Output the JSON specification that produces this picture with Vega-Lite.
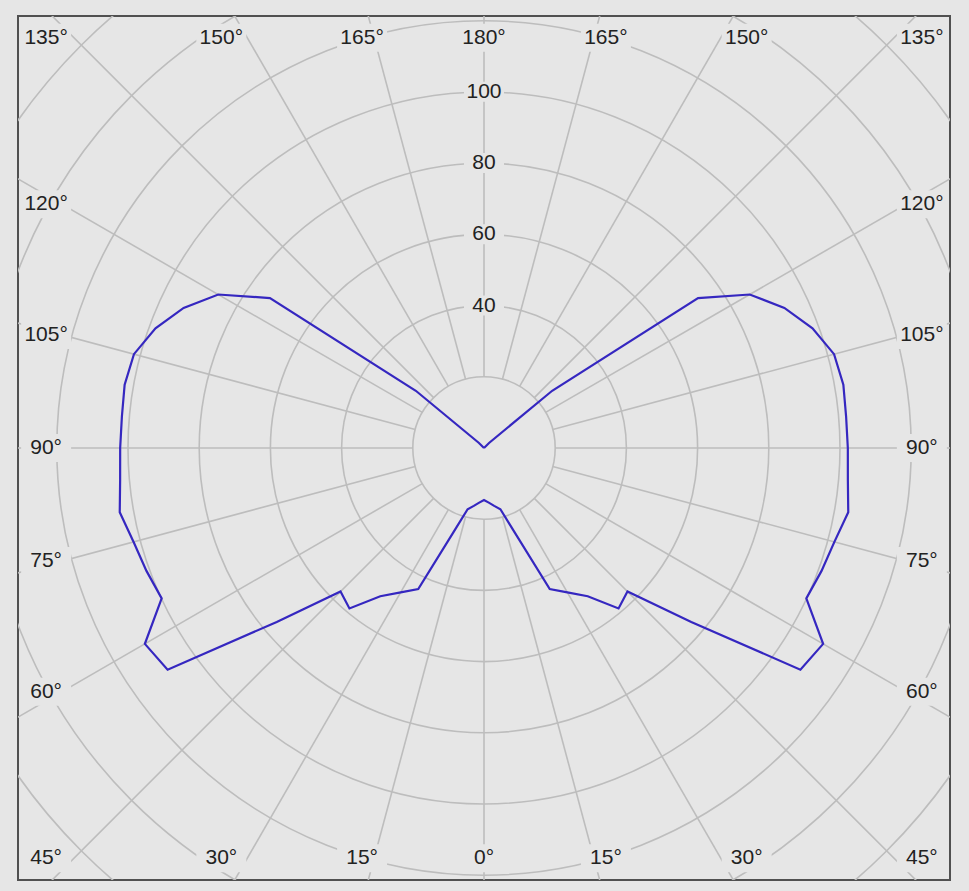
{
  "$schema": "https://vega.github.io/schema/vega-lite/v6.json",
  "width": 932,
  "height": 864,
  "autosize": {"type": "none"},
  "padding": {"left": 18, "top": 16, "right": 19, "bottom": 11},
  "background": "#e6e6e6",
  "config": {
    "view": {"stroke": "#505050", "strokeWidth": 2, "fill": "#e6e6e6"}
  },
  "datasets": {
    "rings": [{"ring": 20}, {"ring": 40}, {"ring": 60}, {"ring": 80}, {"ring": 100}, {"ring": 120}, {"ring": 140}, {"ring": 160}, {"ring": 180}],
    "rays": [{"deg": 0}, {"deg": 15}, {"deg": 30}, {"deg": 45}, {"deg": 60}, {"deg": 75}, {"deg": 90}, {"deg": 105}, {"deg": 120}, {"deg": 135}, {"deg": 150}, {"deg": 165}, {"deg": 180}, {"deg": 195}, {"deg": 210}, {"deg": 225}, {"deg": 240}, {"deg": 255}, {"deg": 270}, {"deg": 285}, {"deg": 300}, {"deg": 315}, {"deg": 330}, {"deg": 345}],
    "ticks": [{"v": 40}, {"v": 60}, {"v": 80}, {"v": 100}],
    "intensity": [
      {"plane": "left", "gamma": 0, "cd": 14.6}, {"plane": "left", "gamma": 5, "cd": 15.4}, {"plane": "left", "gamma": 10, "cd": 16.5}, {"plane": "left", "gamma": 15, "cd": 17.8}, {"plane": "left", "gamma": 20, "cd": 25.3}, {"plane": "left", "gamma": 25, "cd": 43.7}, {"plane": "left", "gamma": 30, "cd": 46.8}, {"plane": "left", "gamma": 35, "cd": 50.8}, {"plane": "left", "gamma": 40, "cd": 58.8}, {"plane": "left", "gamma": 45, "cd": 57.0}, {"plane": "left", "gamma": 50, "cd": 76.0}, {"plane": "left", "gamma": 55, "cd": 108.5}, {"plane": "left", "gamma": 60, "cd": 110.0}, {"plane": "left", "gamma": 65, "cd": 99.9}, {"plane": "left", "gamma": 70, "cd": 100.9}, {"plane": "left", "gamma": 75, "cd": 101.9}, {"plane": "left", "gamma": 80, "cd": 103.9}, {"plane": "left", "gamma": 85, "cd": 102.6}, {"plane": "left", "gamma": 90, "cd": 102.2}, {"plane": "left", "gamma": 95, "cd": 102.1}, {"plane": "left", "gamma": 100, "cd": 102.5}, {"plane": "left", "gamma": 105, "cd": 101.8}, {"plane": "left", "gamma": 110, "cd": 98.2}, {"plane": "left", "gamma": 115, "cd": 93.1}, {"plane": "left", "gamma": 120, "cd": 86.2}, {"plane": "left", "gamma": 125, "cd": 73.4}, {"plane": "left", "gamma": 130, "cd": 25.0}, {"plane": "left", "gamma": 135, "cd": 2.0}, {"plane": "left", "gamma": 140, "cd": 0}, {"plane": "left", "gamma": 145, "cd": 0}, {"plane": "left", "gamma": 150, "cd": 0}, {"plane": "left", "gamma": 155, "cd": 0}, {"plane": "left", "gamma": 160, "cd": 0}, {"plane": "left", "gamma": 165, "cd": 0}, {"plane": "left", "gamma": 170, "cd": 0}, {"plane": "left", "gamma": 175, "cd": 0}, {"plane": "left", "gamma": 180, "cd": 0},
      {"plane": "right", "gamma": 0, "cd": 14.6}, {"plane": "right", "gamma": 5, "cd": 15.4}, {"plane": "right", "gamma": 10, "cd": 16.5}, {"plane": "right", "gamma": 15, "cd": 17.8}, {"plane": "right", "gamma": 20, "cd": 25.3}, {"plane": "right", "gamma": 25, "cd": 43.7}, {"plane": "right", "gamma": 30, "cd": 46.8}, {"plane": "right", "gamma": 35, "cd": 50.8}, {"plane": "right", "gamma": 40, "cd": 58.8}, {"plane": "right", "gamma": 45, "cd": 57.0}, {"plane": "right", "gamma": 50, "cd": 76.0}, {"plane": "right", "gamma": 55, "cd": 108.5}, {"plane": "right", "gamma": 60, "cd": 110.0}, {"plane": "right", "gamma": 65, "cd": 99.9}, {"plane": "right", "gamma": 70, "cd": 100.9}, {"plane": "right", "gamma": 75, "cd": 101.9}, {"plane": "right", "gamma": 80, "cd": 103.9}, {"plane": "right", "gamma": 85, "cd": 102.6}, {"plane": "right", "gamma": 90, "cd": 102.2}, {"plane": "right", "gamma": 95, "cd": 102.1}, {"plane": "right", "gamma": 100, "cd": 102.5}, {"plane": "right", "gamma": 105, "cd": 101.8}, {"plane": "right", "gamma": 110, "cd": 98.2}, {"plane": "right", "gamma": 115, "cd": 93.1}, {"plane": "right", "gamma": 120, "cd": 86.2}, {"plane": "right", "gamma": 125, "cd": 73.4}, {"plane": "right", "gamma": 130, "cd": 25.0}, {"plane": "right", "gamma": 135, "cd": 2.0}, {"plane": "right", "gamma": 140, "cd": 0}, {"plane": "right", "gamma": 145, "cd": 0}, {"plane": "right", "gamma": 150, "cd": 0}, {"plane": "right", "gamma": 155, "cd": 0}, {"plane": "right", "gamma": 160, "cd": 0}, {"plane": "right", "gamma": 165, "cd": 0}, {"plane": "right", "gamma": 170, "cd": 0}, {"plane": "right", "gamma": 175, "cd": 0}, {"plane": "right", "gamma": 180, "cd": 0}
    ]
  },
  "layer": [
    {
      "data": {"name": "rings"},
      "mark": {"type": "point", "shape": "circle", "filled": false, "stroke": "#bdbdbd", "strokeWidth": 1.6, "opacity": 1, "clip": true},
      "encoding": {
        "x": {"datum": 0, "type": "quantitative", "scale": {"domain": [-130.9, 130.9], "nice": false, "zero": false}, "axis": null},
        "y": {"datum": 0, "type": "quantitative", "scale": {"domain": [-121.3, 121.3], "nice": false, "zero": false}, "axis": null},
        "size": {"field": "ring", "type": "quantitative", "scale": {"type": "pow", "exponent": 2, "domain": [0, 100], "range": [0, 506944]}, "legend": null}
      }
    },
    {
      "data": {"name": "rays"},
      "transform": [
        {"calculate": "datum.deg * PI / 180", "as": "rad"},
        {"calculate": "20 * sin(datum.rad)", "as": "xa"},
        {"calculate": "-20 * cos(datum.rad)", "as": "ya"},
        {"calculate": "300 * sin(datum.rad)", "as": "xb"},
        {"calculate": "-300 * cos(datum.rad)", "as": "yb"}
      ],
      "mark": {"type": "rule", "stroke": "#bdbdbd", "strokeWidth": 1.6, "clip": true},
      "encoding": {
        "x": {"field": "xa", "type": "quantitative", "scale": {"domain": [-130.9, 130.9], "nice": false, "zero": false}, "axis": null},
        "y": {"field": "ya", "type": "quantitative", "scale": {"domain": [-121.3, 121.3], "nice": false, "zero": false}, "axis": null},
        "x2": {"field": "xb"},
        "y2": {"field": "yb"}
      }
    },
    {
      "data": {"name": "intensity"},
      "transform": [
        {"calculate": "datum.gamma * PI / 180", "as": "rad"},
        {"calculate": "(datum.plane == 'right' ? 1 : -1) * datum.cd * sin(datum.rad)", "as": "px"},
        {"calculate": "-datum.cd * cos(datum.rad)", "as": "py"},
        {"calculate": "datum.plane == 'right' ? 180 + datum.gamma : 180 - datum.gamma", "as": "ord"}
      ],
      "mark": {"type": "line", "stroke": "#3527c0", "strokeWidth": 2.2, "clip": true},
      "encoding": {
        "x": {"field": "px", "type": "quantitative", "scale": {"domain": [-130.9, 130.9], "nice": false, "zero": false}, "axis": null},
        "y": {"field": "py", "type": "quantitative", "scale": {"domain": [-121.3, 121.3], "nice": false, "zero": false}, "axis": null},
        "order": {"field": "ord", "type": "quantitative"}
      }
    },
    {
      "data": {"name": "ticks"},
      "mark": {"type": "point", "shape": "M-1,-0.5H1V0.5H-1Z", "filled": true, "fill": "#e6e6e6", "strokeWidth": 0, "opacity": 1, "size": 1600},
      "encoding": {
        "x": {"datum": 0, "type": "quantitative", "scale": {"domain": [-130.9, 130.9], "nice": false, "zero": false}, "axis": null},
        "y": {"field": "v", "type": "quantitative", "scale": {"domain": [-121.3, 121.3], "nice": false, "zero": false}, "axis": null}
      }
    },
    {
      "data": {"name": "ticks"},
      "mark": {"type": "text", "font": "Liberation Sans", "fontSize": 21, "color": "#222222", "align": "center", "baseline": "middle"},
      "encoding": {
        "x": {"datum": 0, "type": "quantitative", "scale": {"domain": [-130.9, 130.9], "nice": false, "zero": false}, "axis": null},
        "y": {"field": "v", "type": "quantitative", "scale": {"domain": [-121.3, 121.3], "nice": false, "zero": false}, "axis": null},
        "text": {"field": "v", "type": "quantitative"}
      }
    },
    {
      "data": {"name": "rays"},
      "transform": [
        {"calculate": "datum.deg * PI / 180", "as": "rad"},
        {"calculate": "sin(datum.rad)", "as": "s"},
        {"calculate": "cos(datum.rad)", "as": "c"},
        {"calculate": "(datum.deg <= 180 ? datum.deg : 360 - datum.deg) + '°'", "as": "lab"},
        {"calculate": "abs(datum.c) < 0.6 ? (datum.s > 0 ? 123 : -123) : clamp(127.8 * datum.s / abs(datum.c), -123, 123)", "as": "lx"},
        {"calculate": "abs(datum.c) < 0.6 ? -118.5 * datum.c / abs(datum.s) : (datum.c > 0 ? -115.2 : 115.2)", "as": "ly"}
      ],
      "layer": [
        {
          "mark": {"type": "point", "shape": "M-1,-0.56H1V0.56H-1Z", "filled": true, "fill": "#e6e6e6", "strokeWidth": 0, "opacity": 1, "size": 2500, "clip": true},
          "encoding": {
            "x": {"field": "lx", "type": "quantitative", "scale": {"domain": [-130.9, 130.9], "nice": false, "zero": false}, "axis": null},
            "y": {"field": "ly", "type": "quantitative", "scale": {"domain": [-121.3, 121.3], "nice": false, "zero": false}, "axis": null}
          }
        },
        {
          "mark": {"type": "text", "font": "Liberation Sans", "fontSize": 21, "color": "#222222", "align": "center", "baseline": "middle"},
          "encoding": {
            "x": {"field": "lx", "type": "quantitative", "scale": {"domain": [-130.9, 130.9], "nice": false, "zero": false}, "axis": null},
            "y": {"field": "ly", "type": "quantitative", "scale": {"domain": [-121.3, 121.3], "nice": false, "zero": false}, "axis": null},
            "text": {"field": "lab", "type": "nominal"}
          }
        }
      ]
    }
  ]
}
